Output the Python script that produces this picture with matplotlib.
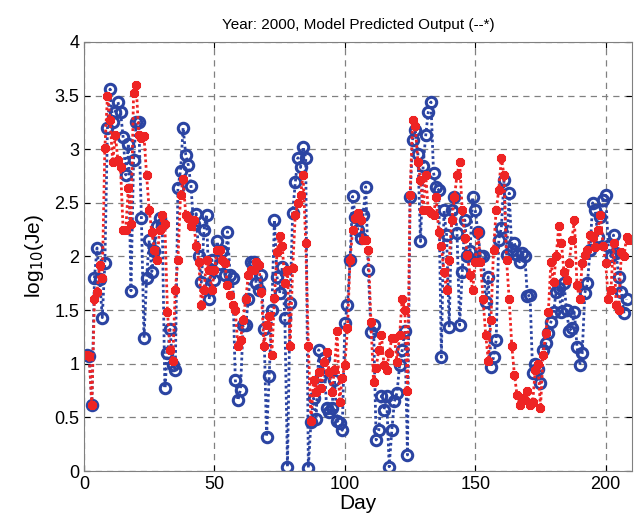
import matplotlib
matplotlib.use("Agg")
import matplotlib.pyplot as plt
import numpy as np

plt.rcParams['font.family'] = ['Liberation Sans', 'DejaVu Sans']

# observed log10(Je), one value per day starting at day 1
observed = [
    1.08, 1.07, 0.62, 1.80, 2.08, 1.79, 1.43, 1.94, 3.20, 3.56,
    3.25, 3.35, 3.44, 3.35, 3.11, 2.76, 3.05, 1.68, 2.90, 3.25,
    3.25, 2.36, 1.24, 1.80, 2.15, 1.86, 2.05, 2.28, 2.36, 2.30,
    0.77, 1.10, 1.32, 0.99, 0.94, 2.64, 2.80, 3.20, 2.95, 2.85,
    2.66, 2.30, 2.40, 2.00, 1.76, 2.25, 2.39, 1.60, 1.97, 1.78,
    2.14, 1.93, 2.05, 1.83, 2.23, 1.83, 1.80, 0.85, 0.66, 0.76,
    1.36, 1.36, 1.60, 1.95, 1.95, 1.75, 1.69, 1.83, 1.32, 0.32,
    0.89, 1.50, 2.34, 1.81, 1.66, 1.90, 1.43, 0.04, 1.57, 2.41,
    2.69, 2.92, 2.83, 3.02, 2.92, 0.03, 0.46, 0.68, 0.49, 1.13,
    0.89, 1.05, 0.59, 0.55, 0.59, 0.85, 0.47, 0.45, 0.38, 1.38,
    1.55, 1.97, 2.56, 2.37, 2.25, 2.17, 2.39, 2.65, 1.87, 1.30,
    1.36, 0.29, 0.38, 0.70, 0.57, 0.70, 0.04, 0.38, 0.65, 0.73,
    0.99, 1.13, 1.31, 0.15, 2.55, 3.09, 3.18, 2.96, 2.14, 2.84,
    3.13, 3.35, 3.44, 2.78, 2.65, 2.62, 1.06, 2.43, 2.20, 1.34,
    2.43, 2.55, 2.22, 1.36, 1.86, 2.34, 2.00, 2.05, 2.55, 2.43,
    2.23, 2.00, 2.00, 1.58, 1.81, 0.97, 1.06, 1.22, 2.15, 2.27,
    2.71, 2.01, 2.59, 2.06, 2.13, 2.01, 1.95, 2.03, 2.00, 1.63,
    1.64, 0.91, 1.00, 0.95, 0.82, 1.13, 1.19, 1.29, 1.39, 1.48,
    1.67, 1.71, 1.48, 1.75, 1.50, 1.31, 1.33, 1.48, 1.16, 0.99,
    1.10, 1.66, 1.75, 2.06, 2.50, 2.43, 2.18, 2.37, 2.53, 2.57,
    2.10, 2.00, 2.20, 2.03, 1.81, 1.67, 1.47, 1.60,
]

# model predicted log10(Je)
predicted = [
    1.08, 1.07, 0.62, 1.60, 1.67, 1.92, 1.80, 3.01, 3.50, 3.27,
    2.88, 3.13, 2.90, 2.83, 2.25, 2.25, 2.64, 2.30, 3.52, 3.60,
    3.13, 3.10, 3.12, 2.76, 2.43, 2.23, 2.06, 1.97, 2.25, 2.39,
    2.30, 1.48, 1.13, 1.03, 1.69, 1.97, 2.57, 2.72, 2.39, 2.36,
    2.28, 2.34, 2.10, 1.95, 1.55, 1.69, 1.97, 1.87, 1.69, 1.87,
    2.06, 2.06, 1.97, 1.94, 1.73, 1.64, 1.55, 1.50, 1.17, 1.22,
    1.41, 1.60, 1.83, 1.87, 1.87, 1.95, 1.92, 1.67, 1.17, 1.36,
    1.45, 1.08, 1.61, 2.04, 2.19, 2.10, 1.75, 1.87, 1.17, 1.89,
    2.39, 2.50, 2.57, 2.76, 2.13, 1.17, 0.47, 0.85, 0.74, 0.92,
    0.77, 1.02, 1.11, 0.92, 0.74, 0.94, 1.31, 0.64, 0.87, 0.99,
    1.33, 1.97, 2.25, 2.36, 2.41, 2.34, 2.15, 2.15, 2.06, 1.39,
    0.83, 0.96, 1.13, 1.27, 0.99, 0.94, 1.10, 1.24, 1.24, 1.02,
    1.27, 1.60, 1.50, 0.75, 2.57, 3.27, 3.22, 2.88, 2.71, 2.43,
    2.76, 2.43, 2.41, 2.39, 2.55, 2.23, 2.10, 1.86, 1.69, 1.97,
    2.34, 2.55, 2.76, 2.88, 2.43, 2.17, 2.01, 1.83, 1.69, 1.95,
    2.23, 1.95, 1.60, 1.27, 1.03, 1.41, 2.06, 2.43, 2.62, 2.92,
    2.76, 1.97, 1.60, 1.17, 0.90, 0.71, 0.62, 0.68, 0.66, 0.75,
    0.62, 0.64, 0.94, 1.00, 0.59, 1.08, 1.29, 1.48, 1.95, 1.76,
    2.00, 2.28, 2.13, 1.86, 1.78, 1.94, 2.15, 2.34, 1.73, 1.60,
    1.94, 2.01, 2.06, 2.20, 2.18, 2.09, 2.25, 2.39, 2.10, 1.94,
    1.60, 1.69, 2.13, 1.55, 1.50, 2.04, 2.00, 2.18, 2.15,
]

obs_days = np.arange(1, len(observed) + 1)
pred_days = np.arange(1, len(predicted) + 1)

fig = plt.figure(figsize=(6.34, 5.24), dpi=100)
ax = fig.add_axes([0.1325, 0.101, 0.864, 0.819])

ax.plot(obs_days, observed, linestyle=(0, (1, 1)), color='#2b44a2', linewidth=2,
        marker='o', markersize=7.5, markerfacecolor='none',
        markeredgecolor='#2b44a2', markeredgewidth=2.2)
ax.plot(pred_days, predicted, linestyle=(0, (1, 1)), color='#ee2424', linewidth=2,
        marker=(8, 2, 0), markersize=6.5, markeredgecolor='#ee2424',
        markeredgewidth=2.2)

ax.set_xlim(0, 210)
ax.set_ylim(0, 4)
ax.set_xticks([0, 50, 100, 150, 200])
ax.set_yticks(np.arange(0, 4.01, 0.5))
ax.set_yticklabels(['0', '0.5', '1', '1.5', '2', '2.5', '3', '3.5', '4'])
ax.tick_params(direction='in', labelsize=13, top=True, right=True, length=4)
ax.grid(True, linestyle=(0, (5, 4)), color='#808080', linewidth=0.9)
for s in ax.spines.values():
    s.set_color('#808080')

ax.set_xlabel('Day', fontsize=15, labelpad=1)
ax.set_ylabel('log$_{10}$(Je)', fontsize=15, labelpad=6)
ax.set_title('Year: 2000, Model Predicted Output (--*)', fontsize=11, pad=9)

fig.savefig('out.png', dpi=100)
